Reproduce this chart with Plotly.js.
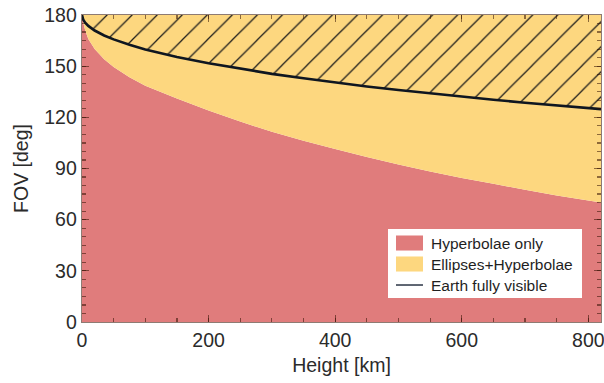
<!DOCTYPE html>
<html>
<head>
<meta charset="utf-8">
<script src="https://cdn.plot.ly/plotly-3.0.1.min.js"></script>
<style>html,body{margin:0;padding:0;background:#fff}#chart{width:604px;height:383px}</style>
</head>
<body>
<div id="chart"></div>
<script>
// Height above ground [km]
const heightKm = [0, 2, 5, 10, 20, 35, 50, 75, 100, 150, 200, 250, 300, 350, 400, 450, 500, 550, 600, 650, 700, 750, 820];
// Upper bound of "Hyperbolae only" region [deg]
const hyperbolaeOnly = [180, 175.5, 171, 166, 160, 154, 149.5, 143.5, 138.5, 131, 124, 117.5, 111.5, 106.3, 101.5, 96.7, 92.3, 88.2, 84.5, 81, 77.5, 74.2, 70];
// Earth fully visible FOV [deg]
const earthVisible = [180, 177.2, 175.5, 173.6, 170.9, 168.0, 165.7, 162.5, 159.8, 155.4, 151.7, 148.4, 145.5, 142.9, 140.4, 138.1, 136.0, 134.0, 132.1, 130.3, 128.6, 126.9, 124.8];
const fovMax = 180;
const xTicks = [0, 200, 400, 600, 800];
const yTicks = [0, 30, 60, 90, 120, 150, 180];
const seriesNames = ['Hyperbolae only', 'Ellipses+Hyperbolae', 'Earth fully visible'];

const pink = '#e07c7c';
const yellow = '#fdd77f';
const lineColor = '#0f1620';
const topLine = heightKm.map(() => fovMax);
const FONT = '"Liberation Sans", Arial, sans-serif';

const traces = [
  {x: heightKm, y: hyperbolaeOnly, type: 'scatter', mode: 'none', fill: 'tozeroy',
   fillcolor: pink, name: seriesNames[0], hoverinfo: 'skip'},
  {x: heightKm, y: earthVisible, type: 'scatter', mode: 'none', fill: 'tonexty',
   fillcolor: yellow, name: seriesNames[1], hoverinfo: 'skip'},
  {x: heightKm, y: topLine, type: 'scatter', mode: 'none', fill: 'tonexty',
   fillcolor: yellow, hoverinfo: 'skip',
   fillpattern: {shape: '/', size: 17.7, solidity: 0.07, fgcolor: '#1a1a1a', bgcolor: yellow, fillmode: 'replace'}},
  {x: heightKm, y: earthVisible, type: 'scatter', mode: 'lines',
   line: {color: lineColor, width: 2.6}, name: seriesNames[2], hoverinfo: 'skip'}
];

// Custom legend (paper coordinates)
const lg = {x0: 0.5896, x1: 0.9634, y0: 0.0782, y1: 0.3029, sx0: 0.6050, sx1: 0.6570, tx: 0.6686};
const rows = [0.2573, 0.1889, 0.1205];
const swH = 0.0245;
const shapes = [
  {type: 'rect', xref: 'paper', yref: 'paper', x0: lg.x0, x1: lg.x1, y0: lg.y0, y1: lg.y1,
   fillcolor: '#ffffff', line: {width: 0}, layer: 'above'},
  {type: 'rect', xref: 'paper', yref: 'paper', x0: lg.sx0, x1: lg.sx1, y0: rows[0] - swH, y1: rows[0] + swH,
   fillcolor: pink, line: {width: 0}, layer: 'above'},
  {type: 'rect', xref: 'paper', yref: 'paper', x0: lg.sx0, x1: lg.sx1, y0: rows[1] - swH, y1: rows[1] + swH,
   fillcolor: yellow, line: {width: 0}, layer: 'above'},
  {type: 'line', xref: 'paper', yref: 'paper', x0: lg.sx0, x1: lg.sx1, y0: rows[2], y1: rows[2],
   line: {color: '#1c2638', width: 1.4}, layer: 'above'}
];
const annotations = seriesNames.map((n, i) => ({
  xref: 'paper', yref: 'paper', x: lg.tx, y: rows[i], xanchor: 'left', yanchor: 'middle',
  text: n, showarrow: false, font: {family: FONT, size: 15.5, color: '#1f1f1f'}
}));

const axisCommon = {
  ticks: 'inside', mirror: 'allticks', showline: true, linewidth: 1.3,
  linecolor: 'rgba(50,15,0,0.55)', tickcolor: 'rgba(50,15,0,0.55)', ticklen: 7, tickwidth: 1.3,
  showgrid: false, zeroline: false, layer: 'above traces', ticklabeloverflow: 'allow',
  tickfont: {family: FONT, size: 19.5, color: '#2b2b2b'}
};

const layout = {
  width: 604, height: 383,
  margin: {l: 82, r: 3, t: 15, b: 61},
  paper_bgcolor: '#ffffff', plot_bgcolor: '#ffffff',
  showlegend: false,
  shapes: shapes,
  annotations: annotations,
  xaxis: Object.assign({}, axisCommon, {
    range: [0, 820], tickvals: xTicks, ticktext: xTicks.map(String),
    minor: {dtick: 50, tick0: 0, ticks: 'inside', ticklen: 4, tickcolor: 'rgba(50,15,0,0.55)', tickwidth: 1.2},
    title: {text: 'Height [km]', font: {family: FONT, size: 19.5, color: '#2b2b2b'}, standoff: 8}
  }),
  yaxis: Object.assign({}, axisCommon, {
    range: [0, 180], tickvals: yTicks, ticktext: yTicks.map(String),
    minor: {dtick: 5, tick0: 0, ticks: 'inside', ticklen: 4, tickcolor: 'rgba(50,15,0,0.55)', tickwidth: 1.2},
    title: {text: 'FOV [deg]', font: {family: FONT, size: 19.5, color: '#2b2b2b'}, standoff: 10}
  })
};

Plotly.newPlot('chart', traces, layout, {staticPlot: true, displayModeBar: false});
</script>
</body>
</html>
